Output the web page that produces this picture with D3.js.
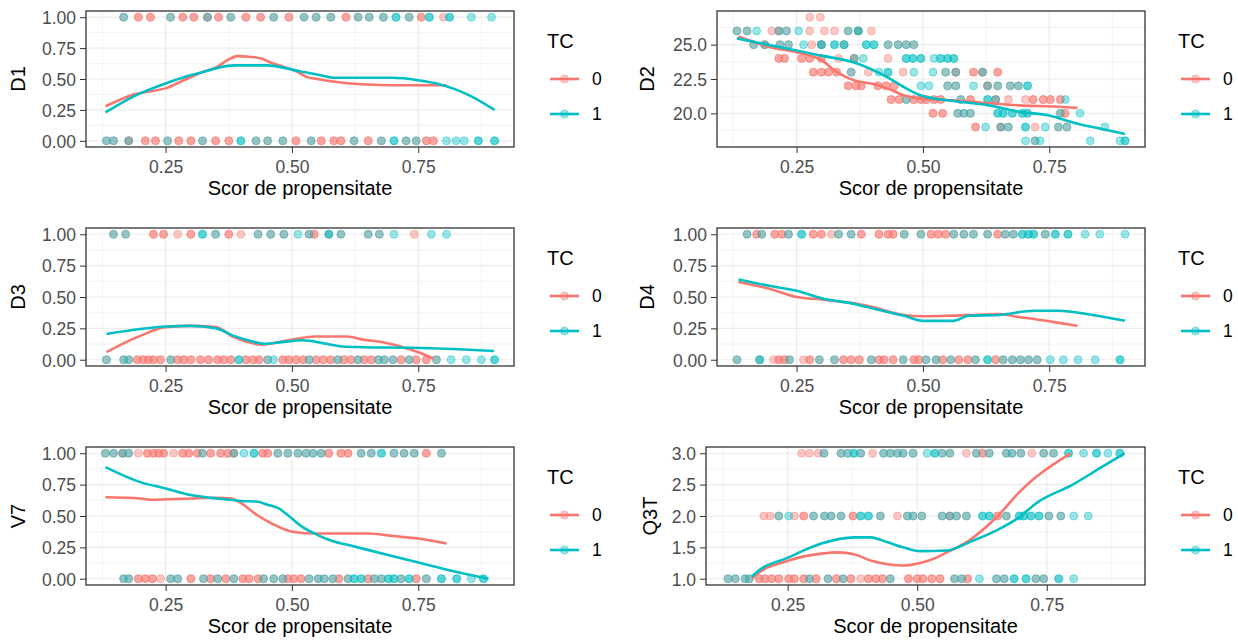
<!DOCTYPE html>
<html>
<head>
<meta charset="utf-8">
<script src="https://cdn.jsdelivr.net/npm/d3@7"></script>
<style>
  body { margin: 0; background: #fff; }
  text { font-family: "Liberation Sans", Arial, sans-serif; }
</style>
</head>
<body>
<div id="chart"></div>
<script>
// ---- data ----
const variables = ["D1", "D2", "D3", "D4", "V7", "Q3T"];
const tcLevels = ["0", "1"];
const tcColors = ["#F8766D", "#00BFC4"];
const scoreRange = [0.131, 0.901];
const xTicks = [0.25, 0.5, 0.75];
const xTitle = "Scor de propensitate";
const legendTitle = "TC";

const yTicksBinary = [0, 0.25, 0.5, 0.75, 1];
const yTicksD2 = [20, 22.5, 25];
const yTicksQ3T = [1, 1.5, 2, 2.5, 3];

// points: [score, value, overlapping count]
const d1Tc0 = [
  [0.167,1,1],[0.196,1,2],[0.220,1,2],[0.260,1,1],[0.284,1,2],[0.306,1,2],[0.333,1,2],[0.355,1,2],[0.379,1,1],[0.409,1,2],
  [0.438,1,2],[0.464,1,1],[0.494,1,2],[0.524,1,1],[0.548,1,1],[0.577,1,1],[0.607,1,2],[0.631,1,1],[0.653,1,1],[0.681,1,1],
  [0.732,1,1],[0.756,1,2],[0.800,1,1],
  [0.133,0,1],[0.147,0,1],[0.177,0,2],[0.210,0,2],[0.230,0,2],[0.254,0,1],[0.276,0,2],[0.300,0,2],[0.323,0,1],[0.349,0,2],
  [0.375,0,2],[0.429,0,1],[0.452,0,1],[0.482,0,1],[0.508,0,2],[0.538,0,1],[0.558,0,2],[0.583,0,2],[0.597,0,2],[0.623,0,1],
  [0.651,0,2],[0.677,0,1],[0.726,0,1],[0.746,0,1],[0.766,0,2],[0.780,0,2]
];
const d1Tc1 = [
  [0.167,1,1],[0.260,1,1],[0.333,1,1],[0.379,1,1],[0.464,1,1],[0.524,1,1],[0.548,1,1],[0.577,1,1],[0.631,1,1],[0.653,1,1],
  [0.681,1,1],[0.706,1,2],[0.732,1,1],[0.772,1,2],[0.812,1,2],[0.855,1,1],[0.895,1,1],
  [0.133,0,1],[0.147,0,1],[0.177,0,1],[0.254,0,1],[0.323,0,1],[0.399,0,2],[0.429,0,1],[0.452,0,1],[0.482,0,1],[0.538,0,1],
  [0.623,0,1],[0.677,0,1],[0.702,0,2],[0.726,0,1],[0.746,0,1],[0.806,0,1],[0.825,0,1],[0.841,0,1],[0.869,0,2],[0.901,0,2]
];

const d2Tc0 = [
  [0.276,27,1],[0.297,27,1],
  [0.132,26,1],[0.152,26,1],[0.201,26,1],[0.215,26,2],[0.230,26,1],[0.276,26,1],[0.305,26,1],[0.325,26,1],[0.352,26,1],[0.372,26,2],[0.398,26,1],
  [0.165,25,1],[0.187,25,2],[0.217,25,1],[0.234,25,1],[0.280,25,1],[0.299,25,2],[0.344,25,1],[0.431,25,1],[0.451,25,1],[0.467,25,1],[0.482,25,1],
  [0.215,24,2],[0.226,24,2],[0.260,24,2],[0.276,24,2],[0.299,24,2],[0.333,24,1],[0.364,24,2],[0.431,24,1],
  [0.283,23,2],[0.299,23,2],[0.313,23,2],[0.329,23,2],[0.358,23,1],[0.392,23,1],[0.461,23,1],[0.545,23,1],[0.565,23,2],[0.600,23,2],[0.618,23,2],[0.648,23,2],
  [0.352,22,2],[0.368,22,2],[0.378,22,2],[0.411,22,2],[0.427,22,2],[0.443,22,2],[0.549,22,1],[0.565,22,1],[0.628,22,2],[0.648,22,1],[0.673,22,1],[0.689,22,1],
  [0.437,21,2],[0.453,21,2],[0.467,21,1],[0.482,21,2],[0.496,21,2],[0.506,21,2],[0.522,21,2],[0.535,21,2],[0.575,21,1],[0.594,21,2],[0.644,21,2],[0.669,21,1],
  [0.703,21,1],[0.718,21,2],[0.738,21,2],[0.752,21,2],[0.772,21,2],
  [0.520,20,2],[0.539,20,2],[0.569,20,1],[0.581,20,1],[0.594,20,1],[0.772,20,1],[0.781,20,2],
  [0.604,19,2],[0.654,19,2],[0.669,19,1],[0.722,19,1],[0.768,19,1],[0.785,19,1],
  [0.722,18,1]
];
const d2Tc1 = [
  [0.132,26,1],[0.152,26,1],[0.171,26,1],[0.215,26,1],[0.230,26,1],[0.254,26,1],[0.352,26,1],[0.372,26,2],
  [0.165,25,1],[0.187,25,1],[0.217,25,1],[0.234,25,1],[0.264,25,1],[0.299,25,2],[0.325,25,2],[0.344,25,2],[0.388,25,2],[0.403,25,2],[0.431,25,1],[0.451,25,1],[0.467,25,1],[0.482,25,1],
  [0.364,24,1],[0.382,24,1],[0.467,24,2],[0.480,24,2],[0.496,24,2],[0.522,24,1],[0.535,24,2],[0.549,24,2],[0.561,24,2],
  [0.358,23,1],[0.413,23,1],[0.431,23,2],[0.482,23,1],[0.520,23,1],[0.545,23,1],[0.565,23,1],[0.618,23,1],
  [0.496,22,1],[0.512,22,1],[0.549,22,1],[0.565,22,1],[0.600,22,1],[0.628,22,1],[0.648,22,1],[0.673,22,1],[0.689,22,1],[0.707,22,2],
  [0.467,21,1],[0.575,21,1],[0.628,21,2],[0.644,21,1],[0.782,21,1],
  [0.569,20,1],[0.581,20,1],[0.594,20,1],[0.648,20,2],[0.659,20,2],[0.677,20,2],[0.697,20,2],[0.707,20,2],[0.772,20,1],[0.811,20,1],
  [0.624,19,1],[0.654,19,1],[0.669,19,1],[0.703,19,2],[0.742,19,1],[0.768,19,1],[0.785,19,1],[0.860,19,1],
  [0.703,18,1],[0.722,18,1],[0.732,18,1],[0.831,18,1],[0.890,18,1],[0.900,18,2]
];

const d3Tc0 = [
  [0.147,1,1],[0.171,1,1],[0.226,1,2],[0.246,1,2],[0.274,1,1],[0.300,1,2],[0.349,1,1],[0.375,1,2],[0.399,1,1],[0.433,1,1],
  [0.458,1,1],[0.484,1,1],[0.534,1,1],[0.544,1,2],[0.573,1,1],[0.597,1,1],[0.651,1,1],[0.673,1,1],[0.742,1,1],
  [0.133,0,1],[0.167,0,1],[0.177,0,1],[0.194,0,2],[0.206,0,2],[0.216,0,2],[0.226,0,2],[0.240,0,2],[0.260,0,1],[0.274,0,2],
  [0.286,0,2],[0.300,0,2],[0.319,0,2],[0.335,0,2],[0.353,0,2],[0.365,0,2],[0.379,0,2],[0.409,0,2],[0.423,0,2],[0.435,0,2],
  [0.452,0,1],[0.482,0,2],[0.494,0,2],[0.508,0,2],[0.522,0,2],[0.534,0,1],[0.548,0,2],[0.562,0,2],[0.577,0,2],[0.591,0,1],
  [0.603,0,2],[0.617,0,2],[0.631,0,1],[0.643,0,2],[0.657,0,2],[0.671,0,1],[0.683,0,1],[0.700,0,1],[0.716,0,2],[0.732,0,1],
  [0.746,0,2],[0.766,0,2],[0.786,0,1]
];
const d3Tc1 = [
  [0.147,1,1],[0.171,1,1],[0.323,1,2],[0.349,1,1],[0.433,1,1],[0.458,1,1],[0.484,1,1],[0.512,1,1],[0.534,1,1],[0.573,1,2],
  [0.597,1,1],[0.651,1,1],[0.673,1,1],[0.702,1,1],[0.776,1,1],[0.806,1,1],
  [0.133,0,1],[0.167,0,1],[0.177,0,1],[0.260,0,1],[0.395,0,2],[0.452,0,1],[0.464,0,1],[0.534,0,1],[0.591,0,1],[0.631,0,1],
  [0.671,0,1],[0.683,0,1],[0.700,0,1],[0.732,0,1],[0.786,0,1],[0.815,0,1],[0.845,0,1],[0.875,0,1],[0.901,0,2]
];

const d4Tc0 = [
  [0.152,1,1],[0.171,1,2],[0.181,1,1],[0.207,1,2],[0.221,1,2],[0.234,1,1],[0.283,1,2],[0.299,1,2],[0.319,1,1],[0.333,1,1],
  [0.358,1,1],[0.378,1,2],[0.413,1,2],[0.431,1,2],[0.441,1,2],[0.463,1,1],[0.496,1,1],[0.516,1,2],[0.530,1,2],[0.545,1,2],
  [0.561,1,1],[0.581,1,1],[0.600,1,1],[0.628,1,1],[0.648,1,2],[0.663,1,1],[0.679,1,1],[0.742,1,1],
  [0.132,0,1],[0.177,0,1],[0.205,0,1],[0.215,0,2],[0.226,0,2],[0.236,0,1],[0.264,0,1],[0.276,0,2],[0.295,0,1],[0.325,0,1],
  [0.343,0,2],[0.358,0,2],[0.374,0,2],[0.398,0,1],[0.413,0,2],[0.423,0,2],[0.441,0,2],[0.461,0,1],[0.482,0,2],[0.492,0,2],
  [0.506,0,1],[0.526,0,1],[0.539,0,2],[0.555,0,1],[0.571,0,2],[0.589,0,2],[0.604,0,1],[0.644,0,2],[0.659,0,1],[0.677,0,1],
  [0.693,0,1],[0.709,0,1],[0.726,0,1]
];
const d4Tc1 = [
  [0.152,1,1],[0.181,1,1],[0.234,1,1],[0.260,1,2],[0.333,1,1],[0.358,1,1],[0.463,1,1],[0.496,1,1],[0.561,1,1],[0.581,1,1],
  [0.600,1,1],[0.628,1,1],[0.663,1,1],[0.679,1,1],[0.697,1,2],[0.709,1,2],[0.719,1,2],[0.742,1,1],[0.762,1,2],[0.787,1,2],
  [0.821,1,1],[0.850,1,1],[0.900,1,1],
  [0.132,0,1],[0.177,0,2],[0.236,0,1],[0.295,0,1],[0.325,0,1],[0.398,0,1],[0.461,0,1],[0.506,0,1],[0.526,0,1],[0.555,0,1],
  [0.604,0,1],[0.628,0,2],[0.659,0,1],[0.677,0,1],[0.693,0,1],[0.709,0,1],[0.726,0,1],[0.752,0,1],[0.778,0,1],[0.807,0,1],
  [0.841,0,1],[0.890,0,2]
];

const v7Tc0 = [
  [0.131,1,1],[0.147,1,1],[0.165,1,2],[0.177,1,1],[0.196,1,1],[0.214,1,2],[0.226,1,2],[0.236,1,2],[0.246,1,2],[0.266,1,1],
  [0.284,1,2],[0.296,1,2],[0.313,1,2],[0.323,1,1],[0.339,1,2],[0.359,1,2],[0.373,1,2],[0.385,1,2],[0.442,1,2],[0.452,1,2],
  [0.472,1,1],[0.492,1,1],[0.512,1,1],[0.528,1,1],[0.542,1,1],[0.558,1,1],[0.573,1,2],[0.597,1,2],[0.611,1,2],[0.637,1,1],
  [0.657,1,1],[0.702,1,1],[0.722,1,1],[0.742,1,1],[0.766,1,2],[0.796,1,1],
  [0.167,0,1],[0.177,0,1],[0.196,0,2],[0.210,0,2],[0.224,0,2],[0.240,0,1],[0.260,0,1],[0.274,0,1],[0.300,0,2],[0.325,0,1],
  [0.339,0,2],[0.353,0,1],[0.369,0,2],[0.385,0,1],[0.403,0,2],[0.415,0,2],[0.433,0,2],[0.444,0,1],[0.464,0,1],[0.482,0,1],
  [0.492,0,2],[0.504,0,2],[0.518,0,2],[0.534,0,1],[0.552,0,1],[0.564,0,1],[0.581,0,1],[0.593,0,2],[0.611,0,1],[0.651,0,2],
  [0.663,0,1],[0.677,0,1],[0.716,0,1],[0.746,0,2],[0.766,0,1]
];
const v7Tc1 = [
  [0.131,1,1],[0.147,1,1],[0.165,1,1],[0.177,1,1],[0.323,1,1],[0.385,1,1],[0.405,1,1],[0.425,1,2],[0.472,1,1],[0.492,1,1],
  [0.512,1,1],[0.528,1,1],[0.542,1,1],[0.558,1,1],[0.637,1,1],[0.657,1,1],[0.677,1,2],[0.702,1,1],[0.722,1,1],[0.742,1,1],
  [0.796,1,1],
  [0.167,0,1],[0.177,0,1],[0.260,0,1],[0.274,0,1],[0.325,0,1],[0.353,0,1],[0.385,0,1],[0.444,0,1],[0.464,0,1],[0.482,0,1],
  [0.534,0,1],[0.552,0,1],[0.564,0,1],[0.581,0,1],[0.611,0,1],[0.623,0,2],[0.637,0,2],[0.663,0,1],[0.677,0,1],[0.691,0,2],
  [0.702,0,2],[0.716,0,1],[0.732,0,2],[0.766,0,1],[0.796,0,2],[0.826,0,2],[0.855,0,1],[0.879,0,2]
];

const q3tTc0 = [
  [0.277,3,1],[0.292,3,1],[0.309,3,1],[0.320,3,1],[0.353,3,1],[0.366,3,1],[0.391,3,1],[0.414,3,1],[0.435,3,1],[0.448,3,1],
  [0.462,3,1],[0.473,3,1],[0.492,3,1],[0.548,3,1],[0.563,3,1],[0.595,3,1],[0.614,3,1],[0.626,3,2],[0.639,3,1],[0.672,3,1],
  [0.683,3,1],[0.700,3,1],[0.721,3,1],[0.744,3,1],[0.763,3,1],
  [0.204,2,1],[0.216,2,1],[0.233,2,1],[0.263,2,1],[0.281,2,2],[0.300,2,1],[0.321,2,1],[0.334,2,1],[0.353,2,1],[0.376,2,2],
  [0.429,2,1],[0.462,2,1],[0.481,2,1],[0.492,2,1],[0.509,2,1],[0.548,2,1],[0.563,2,2],[0.576,2,1],[0.595,2,1],[0.655,2,2],
  [0.672,2,1],[0.754,2,1],[0.777,2,1],
  [0.135,1,1],[0.149,1,1],[0.168,1,1],[0.176,1,1],[0.195,1,2],[0.206,1,2],[0.219,1,2],[0.233,1,2],[0.252,1,2],[0.263,1,2],
  [0.281,1,2],[0.292,1,1],[0.305,1,2],[0.328,1,1],[0.344,1,2],[0.357,1,1],[0.372,1,2],[0.391,1,1],[0.406,1,2],[0.420,1,2],
  [0.433,1,2],[0.448,1,1],[0.483,1,2],[0.500,1,2],[0.511,1,2],[0.528,1,2],[0.544,1,2],[0.572,1,1],[0.586,1,1],[0.597,1,2],
  [0.653,1,1],[0.668,1,1],[0.729,1,1],[0.744,1,1]
];
const q3tTc1 = [
  [0.320,3,1],[0.353,3,1],[0.366,3,1],[0.378,3,2],[0.391,3,1],[0.435,3,1],[0.448,3,1],[0.462,3,1],[0.473,3,1],[0.492,3,1],
  [0.519,3,1],[0.534,3,2],[0.548,3,1],[0.563,3,1],[0.614,3,1],[0.639,3,1],[0.672,3,1],[0.683,3,1],[0.700,3,1],[0.744,3,1],
  [0.763,3,1],[0.792,3,2],[0.821,3,1],[0.846,3,2],[0.868,3,1],[0.891,3,2],
  [0.233,2,1],[0.252,2,1],[0.300,2,1],[0.321,2,1],[0.334,2,1],[0.353,2,1],[0.391,2,2],[0.406,2,2],[0.429,2,1],[0.481,2,1],
  [0.492,2,1],[0.509,2,1],[0.548,2,1],[0.563,2,1],[0.576,2,1],[0.595,2,1],[0.626,2,2],[0.639,2,2],[0.672,2,1],[0.697,2,2],
  [0.706,2,2],[0.719,2,2],[0.735,2,2],[0.754,2,1],[0.777,2,1],[0.802,2,1],[0.830,2,1],
  [0.135,1,1],[0.149,1,1],[0.168,1,1],[0.176,1,1],[0.292,1,1],[0.328,1,1],[0.357,1,1],[0.448,1,1],[0.572,1,1],[0.586,1,1],
  [0.620,1,1],[0.653,1,1],[0.668,1,1],[0.687,1,2],[0.710,1,2],[0.729,1,1],[0.744,1,1],[0.773,1,2],[0.802,1,1]
];

// smoothed fits: [score, fitted value]
const d1Fit0 = [[0.131,0.28],[0.187,0.375],[0.254,0.43],[0.286,0.49],[0.319,0.55],[0.353,0.60],[0.373,0.655],[0.393,0.685],[0.415,0.68],[0.44,0.665],[0.46,0.63],[0.49,0.59],[0.51,0.56],[0.53,0.515],[0.55,0.50],[0.60,0.47],[0.65,0.455],[0.70,0.45],[0.806,0.45]];
const d1Fit1 = [[0.131,0.23],[0.187,0.36],[0.254,0.47],[0.286,0.515],[0.319,0.55],[0.353,0.59],[0.386,0.61],[0.452,0.61],[0.485,0.59],[0.518,0.56],[0.552,0.535],[0.585,0.51],[0.70,0.51],[0.75,0.49],[0.79,0.46],[0.821,0.42],[0.855,0.36],[0.901,0.25]];
const d2Fit0 = [[0.135,25.6],[0.20,24.8],[0.25,24.45],[0.30,23.85],[0.33,23.0],[0.364,22.4],[0.40,22.15],[0.431,21.8],[0.463,21.3],[0.496,21.07],[0.561,20.95],[0.628,20.75],[0.69,20.58],[0.76,20.5],[0.806,20.4]];
const d2Fit1 = [[0.132,25.46],[0.201,24.93],[0.25,24.57],[0.299,24.2],[0.364,23.7],[0.431,22.6],[0.463,21.9],[0.496,21.3],[0.561,20.9],[0.628,20.6],[0.693,20.1],[0.75,19.85],[0.80,19.3],[0.85,18.9],[0.90,18.5]];
const d3Fit0 = [[0.133,0.06],[0.177,0.15],[0.20,0.19],[0.25,0.26],[0.30,0.27],[0.35,0.26],[0.385,0.18],[0.413,0.14],[0.44,0.12],[0.48,0.145],[0.51,0.167],[0.545,0.185],[0.61,0.185],[0.64,0.16],[0.68,0.14],[0.72,0.10],[0.75,0.06],[0.78,0.01]];
const d3Fit1 = [[0.133,0.205],[0.20,0.245],[0.25,0.265],[0.30,0.27],[0.35,0.25],[0.385,0.19],[0.413,0.155],[0.446,0.127],[0.48,0.14],[0.52,0.155],[0.57,0.125],[0.60,0.105],[0.64,0.10],[0.74,0.095],[0.82,0.085],[0.90,0.07]];
const d4Fit0 = [[0.135,0.62],[0.201,0.56],[0.25,0.50],[0.299,0.48],[0.364,0.45],[0.40,0.42],[0.463,0.357],[0.50,0.347],[0.55,0.35],[0.60,0.357],[0.65,0.365],[0.69,0.34],[0.72,0.325],[0.76,0.30],[0.806,0.27]];
const d4Fit1 = [[0.135,0.64],[0.201,0.585],[0.25,0.55],[0.299,0.49],[0.364,0.445],[0.40,0.41],[0.43,0.38],[0.463,0.35],[0.50,0.31],[0.56,0.31],[0.59,0.35],[0.65,0.357],[0.72,0.39],[0.77,0.39],[0.83,0.36],[0.90,0.31]];
const v7Fit0 = [[0.131,0.65],[0.20,0.64],[0.22,0.63],[0.30,0.64],[0.35,0.645],[0.38,0.64],[0.40,0.60],[0.43,0.51],[0.46,0.44],[0.50,0.375],[0.55,0.36],[0.65,0.36],[0.70,0.34],[0.75,0.32],[0.806,0.28]];
const v7Fit1 = [[0.131,0.89],[0.20,0.77],[0.25,0.72],[0.30,0.667],[0.35,0.64],[0.40,0.62],[0.43,0.615],[0.452,0.59],[0.474,0.56],[0.494,0.50],[0.52,0.415],[0.55,0.35],[0.58,0.30],[0.62,0.26],[0.65,0.23],[0.70,0.18],[0.75,0.13],[0.82,0.06],[0.889,0.0]];
const q3tFit0 = [[0.181,1.0],[0.187,1.05],[0.252,1.29],[0.315,1.40],[0.347,1.42],[0.378,1.39],[0.41,1.29],[0.443,1.23],[0.473,1.21],[0.506,1.25],[0.538,1.34],[0.557,1.42],[0.60,1.61],[0.653,1.98],[0.697,2.38],[0.729,2.62],[0.796,3.0]];
const q3tFit1 = [[0.181,1.03],[0.187,1.08],[0.252,1.34],[0.315,1.56],[0.378,1.66],[0.41,1.66],[0.443,1.58],[0.473,1.5],[0.506,1.44],[0.557,1.45],[0.60,1.58],[0.653,1.77],[0.697,1.98],[0.729,2.2],[0.80,2.5],[0.85,2.75],[0.90,3.0]];

// ---- layout ----
const width = 1238, height = 643;
const rows = [[11, 147], [228, 366], [447, 585]];
const panels = [
  { name: variables[0], tc0: d1Tc0, tc1: d1Tc1, fit0: d1Fit0, fit1: d1Fit1, ticks: yTicksBinary, range: [0, 1], fmt: ".2f", left: 86, right: 514, row: 0, titleX: 25 },
  { name: variables[1], tc0: d2Tc0, tc1: d2Tc1, fit0: d2Fit0, fit1: d2Fit1, ticks: yTicksD2, range: [18, 27], fmt: ".1f", left: 717, right: 1145, row: 0, titleX: 654 },
  { name: variables[2], tc0: d3Tc0, tc1: d3Tc1, fit0: d3Fit0, fit1: d3Fit1, ticks: yTicksBinary, range: [0, 1], fmt: ".2f", left: 86, right: 514, row: 1, titleX: 25 },
  { name: variables[3], tc0: d4Tc0, tc1: d4Tc1, fit0: d4Fit0, fit1: d4Fit1, ticks: yTicksBinary, range: [0, 1], fmt: ".2f", left: 717, right: 1145, row: 1, titleX: 654 },
  { name: variables[4], tc0: v7Tc0, tc1: v7Tc1, fit0: v7Fit0, fit1: v7Fit1, ticks: yTicksBinary, range: [0, 1], fmt: ".2f", left: 86, right: 514, row: 2, titleX: 25 },
  { name: variables[5], tc0: q3tTc0, tc1: q3tTc1, fit0: q3tFit0, fit1: q3tFit1, ticks: yTicksQ3T, range: [1, 3], fmt: ".1f", left: 706, right: 1145, row: 2, titleX: 657 }
];

const alpha = 0.4;
const pointR = 4;
const gridCol = "#EBEBEB";
const dark = "#333333";

function expand(r) {
  const pad = (r[1] - r[0]) * 0.05;
  return [r[0] - pad, r[1] + pad];
}

// midpoints between major breaks, one step past the ends if still inside the domain
function minorBreaks(ticks, domain) {
  const step = ticks[1] - ticks[0];
  const out = [];
  for (let v = ticks[0] - step / 2; v <= domain[1]; v += step) {
    if (v >= domain[0]) out.push(v);
  }
  return out;
}

const svg = d3.select("#chart")
  .append("svg")
  .attr("width", width)
  .attr("height", height);

panels.forEach(function(p) {
  const top = rows[p.row][0], bottom = rows[p.row][1];
  const xDom = expand(scoreRange), yDom = expand(p.range);

  const x = d3.scaleLinear().domain(xDom).range([p.left, p.right]);
  const y = d3.scaleLinear().domain(yDom).range([bottom, top]);

  const g = svg.append("g");

  // grid
  minorBreaks(xTicks, xDom).forEach(v => {
    g.append("line").attr("x1", x(v)).attr("x2", x(v)).attr("y1", top).attr("y2", bottom)
      .attr("stroke", gridCol).attr("stroke-width", 0.6);
  });
  minorBreaks(p.ticks, yDom).forEach(v => {
    g.append("line").attr("x1", p.left).attr("x2", p.right).attr("y1", y(v)).attr("y2", y(v))
      .attr("stroke", gridCol).attr("stroke-width", 0.6);
  });
  xTicks.forEach(v => {
    g.append("line").attr("x1", x(v)).attr("x2", x(v)).attr("y1", top).attr("y2", bottom)
      .attr("stroke", gridCol).attr("stroke-width", 1.2);
  });
  p.ticks.forEach(v => {
    g.append("line").attr("x1", p.left).attr("x2", p.right).attr("y1", y(v)).attr("y2", y(v))
      .attr("stroke", gridCol).attr("stroke-width", 1.2);
  });

  // points
  [p.tc0, p.tc1].forEach((pts, i) => {
    pts.forEach(d => {
      for (let k = 0; k < d[2]; k++) {
        g.append("circle")
          .attr("cx", x(d[0]))
          .attr("cy", y(d[1]))
          .attr("r", pointR)
          .attr("fill", tcColors[i])
          .attr("fill-opacity", alpha)
          .attr("stroke", tcColors[i])
          .attr("stroke-opacity", alpha)
          .attr("stroke-width", 1);
      }
    });
  });

  // fitted lines
  const line = d3.line()
    .x(d => x(d[0]))
    .y(d => y(d[1]))
    .curve(d3.curveMonotoneX);

  [p.fit0, p.fit1].forEach((fit, i) => {
    g.append("path")
      .datum(fit)
      .attr("fill", "none")
      .attr("stroke", tcColors[i])
      .attr("stroke-width", 2.6)
      .attr("d", line);
  });

  // border
  g.append("rect")
    .attr("x", p.left).attr("y", top)
    .attr("width", p.right - p.left).attr("height", bottom - top)
    .attr("fill", "none").attr("stroke", dark).attr("stroke-width", 1.3);

  // axes
  const xAxis = g.append("g")
    .attr("transform", `translate(0,${bottom})`)
    .call(d3.axisBottom(x).tickValues(xTicks).tickSize(6).tickFormat(d3.format(".2f")));
  xAxis.select(".domain").remove();
  xAxis.selectAll("line").attr("stroke", dark);
  xAxis.selectAll("text")
    .attr("y", 26).attr("dy", null)
    .attr("fill", "#4D4D4D")
    .style("font-size", "17.5px");

  const yAxis = g.append("g")
    .attr("transform", `translate(${p.left},0)`)
    .call(d3.axisLeft(y).tickValues(p.ticks).tickSize(6).tickFormat(d3.format(p.fmt)));
  yAxis.select(".domain").remove();
  yAxis.selectAll("line").attr("stroke", dark);
  yAxis.selectAll("text")
    .attr("x", -10).attr("dy", "0.36em")
    .attr("fill", "#4D4D4D")
    .style("font-size", "17.5px");

  // axis titles
  g.append("text")
    .attr("x", (p.left + p.right) / 2)
    .attr("y", bottom + 48)
    .attr("text-anchor", "middle")
    .style("font-size", "20px")
    .text(xTitle);

  g.append("text")
    .attr("transform", `translate(${p.titleX},${(top + bottom) / 2}) rotate(-90)`)
    .attr("text-anchor", "middle")
    .style("font-size", "20px")
    .text(p.name);

  // legend
  const lg = g.append("g").attr("transform", `translate(${p.right + 33},${top})`);
  lg.append("text").attr("x", 0).attr("y", 37).style("font-size", "20px").text(legendTitle);
  tcLevels.forEach((lv, i) => {
    const ky = 68 + i * 35;
    lg.append("line")
      .attr("x1", 3).attr("x2", 32).attr("y1", ky).attr("y2", ky)
      .attr("stroke", tcColors[i]).attr("stroke-width", 2.6);
    lg.append("circle")
      .attr("cx", 17.5).attr("cy", ky).attr("r", pointR)
      .attr("fill", tcColors[i]).attr("fill-opacity", alpha)
      .attr("stroke", tcColors[i]).attr("stroke-opacity", alpha);
    lg.append("text")
      .attr("x", 45).attr("y", ky).attr("dy", "0.36em")
      .style("font-size", "17.5px")
      .text(lv);
  });
});
</script>
</body>
</html>
